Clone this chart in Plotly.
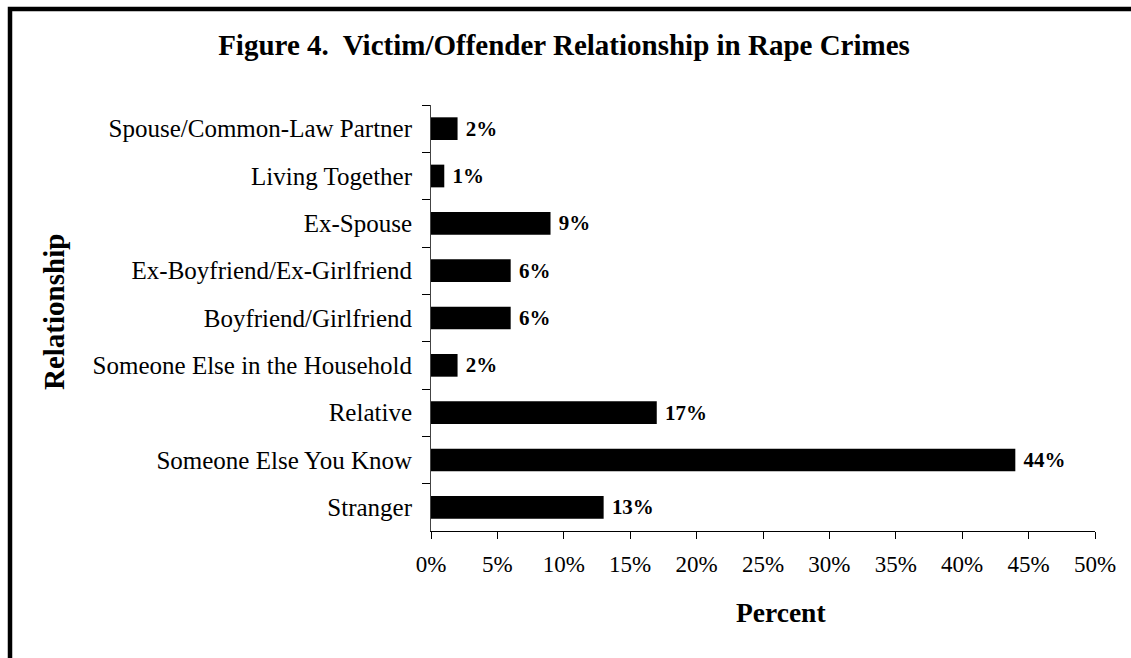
import plotly.graph_objects as go

categories = [
    "Spouse/Common-Law Partner",
    "Living Together",
    "Ex-Spouse",
    "Ex-Boyfriend/Ex-Girlfriend",
    "Boyfriend/Girlfriend",
    "Someone Else in the Household",
    "Relative",
    "Someone Else You Know",
    "Stranger",
]
percent_values = [2, 1, 9, 6, 6, 2, 17, 44, 13]
x_tick_values = [0, 5, 10, 15, 20, 25, 30, 35, 40, 45, 50]
x_tick_labels = [f"{v}%" for v in x_tick_values]

W, H = 1131, 658
L, R, T, B = 431, 1095, 105, 531

def px(x):
    return (x - L) / (R - L)

def py(y):
    return (B - y) / (B - T)

SERIF = "Liberation Serif, Times New Roman, serif"

fig = go.Figure()
fig.add_trace(go.Bar(
    x=percent_values,
    y=categories,
    orientation="h",
    marker=dict(color="black", line=dict(width=0)),
    texttemplate=" %{x}%",
    textposition="outside",
    textfont=dict(family=SERIF, size=24, color="black", weight="bold"),
    cliponaxis=False,
    hoverinfo="skip",
))

fig.update_layout(
    width=W, height=H,
    margin=dict(l=L, r=W - R, t=T, b=H - B, autoexpand=False),
    paper_bgcolor="white",
    plot_bgcolor="white",
    bargap=0.52,
    showlegend=False,
    font=dict(family=SERIF, color="black"),
    title=dict(
        text="<b>Figure 4.  Victim/Offender Relationship in Rape Crimes</b>",
        font=dict(family=SERIF, size=29, color="black"),
        x=564 / W, xref="container", xanchor="center",
        y=1 - 45 / H, yref="container", yanchor="middle",
    ),
    xaxis=dict(
        range=[0, 50],
        tickvals=x_tick_values,
        ticktext=x_tick_labels,
        showgrid=False, zeroline=False,
        showline=True, linecolor="black", linewidth=1,
        ticks="outside", ticklen=7, tickcolor="black", tickwidth=1,
        ticklabelstandoff=5,
        tickfont=dict(family=SERIF, size=23, color="black"),
    ),
    yaxis=dict(
        autorange="reversed",
        showgrid=False, zeroline=False,
        showline=True, linecolor="#444444", linewidth=1,
        ticks="outside", ticklen=8, tickcolor="black", tickwidth=1,
        tickson="boundaries",
        ticklabelstandoff=13,
        tickfont=dict(family=SERIF, size=25, color="black"),
    ),
    annotations=[
        dict(
            text="<b>Percent</b>", xref="paper", yref="paper",
            x=px(781), y=py(612), xanchor="center", yanchor="middle",
            showarrow=False, font=dict(family=SERIF, size=27.5, color="black"),
        ),
        dict(
            text="<b>Relationship</b>", xref="paper", yref="paper",
            x=px(54), y=py(312), xanchor="center", yanchor="middle",
            textangle=-90,
            showarrow=False, font=dict(family=SERIF, size=29, color="black"),
        ),
    ],
    shapes=[
        dict(
            type="path", xref="paper", yref="paper",
            path=f"M {px(10)} {py(H + 10)} L {px(10)} {py(9)} L {px(W + 10)} {py(9)}",
            line=dict(color="black", width=4.5),
        )
    ],
)

fig.write_html(
    "out.html",
    config={"displayModeBar": False},
    post_script="document.body.style.margin='0';",
)
